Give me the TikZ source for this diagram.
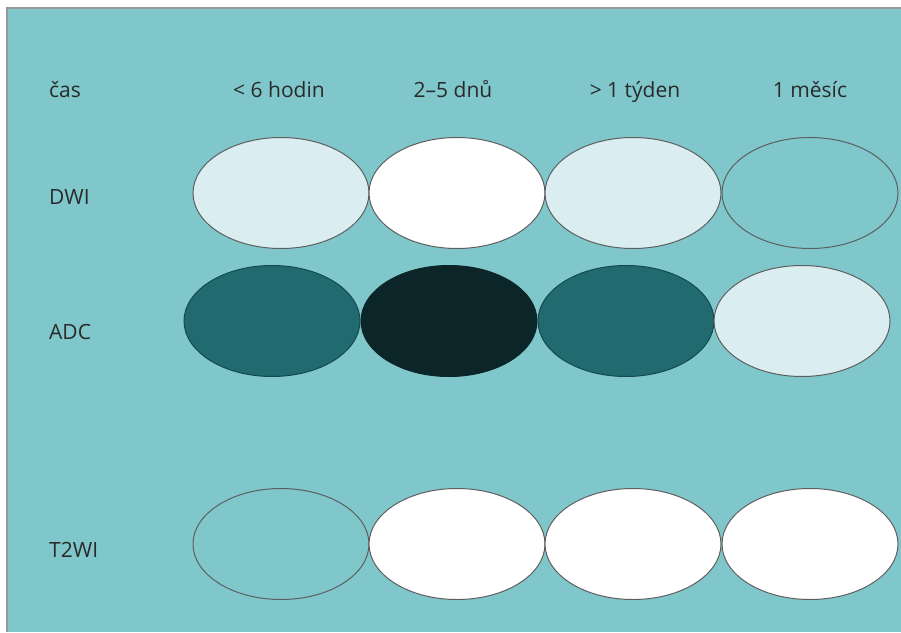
\documentclass[tikz,border=0pt]{standalone}
\usepackage{fontspec}
\setmainfont{Open Sans}
\usetikzlibrary{shapes.geometric}
\definecolor{bgteal}{HTML}{7FC7CB}
\definecolor{lightc}{HTML}{DAEEF1}
\definecolor{midc}{HTML}{206A70}
\definecolor{darkc}{HTML}{0C2528}
\definecolor{edgec}{HTML}{5E5E5E}
\definecolor{txtc}{HTML}{2A2A2A}
\begin{document}
\begin{tikzpicture}[x=1pt,y=-1pt,
  oval/.style={ellipse, draw=edgec, line width=1pt, minimum width=176pt, minimum height=111pt, inner sep=0pt},
  lbl/.style={anchor=base west, text=txtc, font=\fontsize{21}{25}\selectfont, inner sep=0pt},
  hdr/.style={anchor=base, text=txtc, font=\fontsize{21}{25}\selectfont, inner sep=0pt}]
\useasboundingbox (0,0) rectangle (901,632);
\fill[white] (0,0) rectangle (901,632);
\fill[bgteal] (7,8) rectangle (901,632);
\draw[gray!80, line width=1.5pt] (7,632) -- (7,8) -- (901,8);
% headers
\node[lbl] (cas) at (49,97) {čas};
\node[hdr] (h1) at (279,97) {< 6 hodin};
\node[hdr] (h2) at (453,97) {2–5 dnů};
\node[hdr] (h3) at (635,97) {> 1 týden};
\node[hdr] (h4) at (810,97) {1 měsíc};
% row labels
\node[lbl] (dwi) at (49,204) {DWI};
\node[lbl] (adc) at (49,339) {ADC};
\node[lbl] (t2) at (49,557) {T2WI};
% DWI
\node[oval, fill=lightc] (d1) at (281,193) {};
\node[oval, fill=white] (d2) at (457,193) {};
\node[oval, fill=lightc] (d3) at (633,193) {};
\node[oval, fill=bgteal] (d4) at (810,193) {};
% ADC
\node[oval, fill=midc, draw=midc!70!black] (a1) at (272,321) {};
\node[oval, fill=darkc, draw=darkc] (a2) at (449,321) {};
\node[oval, fill=midc, draw=midc!70!black] (a3) at (626,321) {};
\node[oval, fill=lightc] (a4) at (802,321) {};
% T2WI
\node[oval, fill=bgteal] (t1) at (281,544) {};
\node[oval, fill=white] (tt2) at (457,544) {};
\node[oval, fill=white] (t3) at (633,544) {};
\node[oval, fill=white] (t4) at (810,544) {};
\end{tikzpicture}
\end{document}
